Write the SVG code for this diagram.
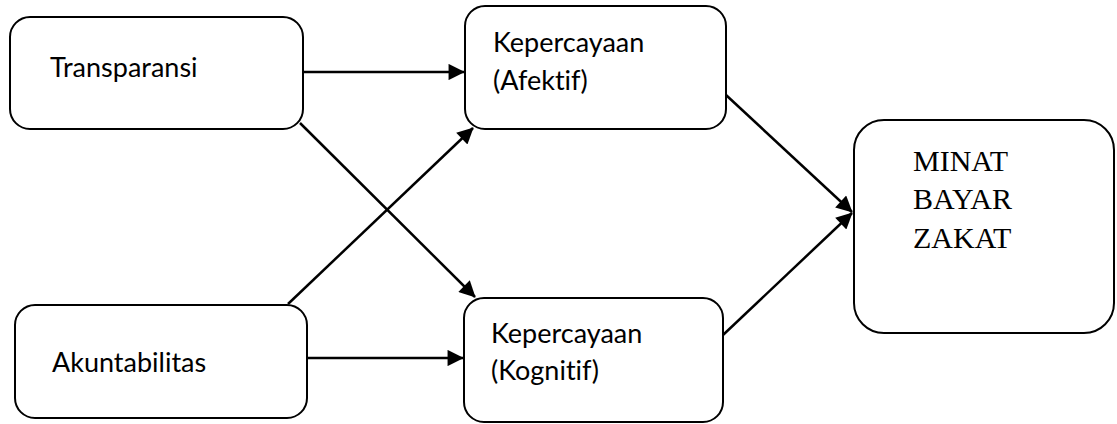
<svg xmlns="http://www.w3.org/2000/svg" width="1117" height="424" viewBox="0 0 1117 424">
<style>
.box{fill:#fff;stroke:#000;stroke-width:2}
.t{font-family:Lato,"Liberation Sans",sans-serif;font-size:27px;fill:#000;font-variant-ligatures:none}
.s{font-family:"Liberation Serif","Times New Roman",serif;font-size:30px;fill:#000}
.c{stroke:#000;stroke-width:2.5;fill:none;marker-end:url(#ah)}
</style>
<defs>
<marker id="ah" viewBox="0 0 10 10" refX="9.5" refY="5" markerWidth="7.5" markerHeight="6.5" markerUnits="strokeWidth" orient="auto">
<path d="M0,0 L10,5 L0,10 Z" fill="#000"/>
</marker>
</defs>
<g id="connectors">
<line class="c" x1="303" y1="72" x2="464" y2="72"/>
<line class="c" x1="300" y1="123" x2="475" y2="297"/>
<line class="c" x1="288" y1="304" x2="473" y2="128"/>
<line class="c" x1="307" y1="358" x2="463" y2="358"/>
<line class="c" x1="726" y1="95" x2="852" y2="212"/>
<line class="c" x1="723" y1="335" x2="852" y2="213"/>
</g>
<g id="transparansi">
<rect class="box" x="10" y="17" width="293" height="112" rx="20"/>
<text class="t" x="50" y="77">Transparansi</text>
</g>
<g id="akuntabilitas">
<rect class="box" x="15" y="305" width="292" height="113" rx="20"/>
<text class="t" x="52" y="372">Akuntabilitas</text>
</g>
<g id="afektif">
<rect class="box" x="465" y="6" width="261" height="123" rx="20"/>
<text class="t" x="493" y="52">Kepercayaan</text>
<text class="t" x="493" y="90">(Afektif)</text>
</g>
<g id="kognitif">
<rect class="box" x="464" y="298" width="259" height="124" rx="20"/>
<text class="t" x="491" y="343">Kepercayaan</text>
<text class="t" x="491" y="380">(Kognitif)</text>
</g>
<g id="minat">
<rect class="box" x="854" y="120" width="260" height="213" rx="30"/>
<text class="s" x="913" y="171">MINAT</text>
<text class="s" x="913" y="209">BAYAR</text>
<text class="s" x="913" y="248">ZAKAT</text>
</g>
</svg>
